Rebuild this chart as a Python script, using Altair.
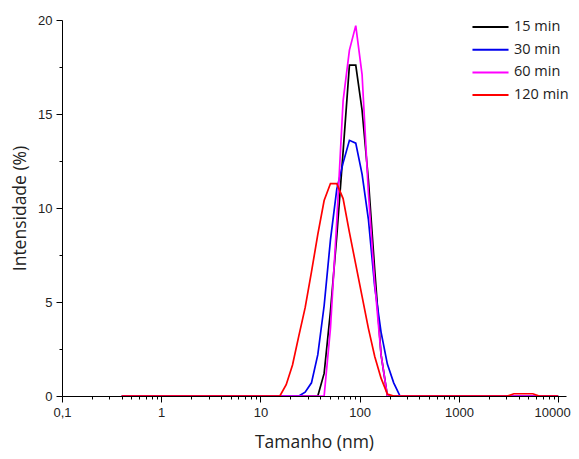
import altair as alt
import pandas as pd

sizes = [0.4000, 0.4632, 0.5365, 0.6213, 0.7195, 0.8332, 0.9649, 1.117, 1.294, 1.499,
         1.736, 2.010, 2.328, 2.696, 3.122, 3.615, 4.187, 4.849, 5.615, 6.503,
         7.531, 8.721, 10.10, 11.70, 13.54, 15.69, 18.17, 21.04, 24.36, 28.21,
         32.67, 37.84, 43.82, 50.75, 58.77, 68.06, 78.82, 91.28, 105.7, 122.4,
         141.8, 164.2, 190.1, 220.2, 255.0, 295.3, 342.0, 396.1, 458.7, 531.2,
         615.1, 712.4, 825.0, 955.4, 1106, 1281, 1484, 1718, 1990, 2305,
         2669, 3091, 3580, 4145, 4801, 5560, 6439, 7456, 8635, 10000]

z = [0.0] * 10
int_15 = z + z + z + [0, 0, 1.2, 4.5, 8.5, 13.0, 17.6, 17.6, 15.2, 11.5] + [6.7, 2.2, 0, 0, 0, 0, 0, 0, 0, 0] + z + z
int_30 = z + z + [0, 0, 0, 0, 0, 0, 0, 0, 0, 0.2] + [0.7, 2.2, 4.8, 8.3, 11.0, 12.4, 13.6, 13.45, 11.8, 9.4] + [5.8, 3.4, 1.7, 0.7, 0, 0, 0, 0, 0, 0] + z + z
int_60 = z + z + z + [0, 0, 0, 3.6, 9.3, 15.7, 18.4, 19.7, 17.1, 10.8] + [6.0, 2.2, 0, 0, 0, 0, 0, 0, 0, 0] + z + z
int_120 = z + z + [0, 0, 0, 0, 0, 0, 0.6, 1.65, 3.2, 4.7] + [6.6, 8.6, 10.4, 11.3, 11.3, 10.5, 8.7, 7.0, 5.3, 3.6] + [2.1, 0.95, 0.1, 0, 0, 0, 0, 0, 0, 0] + z + [0, 0, 0.12, 0.12, 0.12, 0.12, 0, 0, 0, 0]

series_names = ["15 min", "30 min", "60 min", "120 min"]
series_vals = [int_15, int_30, int_60, int_120]
colors = ["#000000", "#0000ee", "#ff00ff", "#ff0000"]

x_major = [0.1, 1, 10, 100, 1000, 10000]
x_minor = [m * 10 ** e for e in range(-1, 4) for m in range(2, 10)]
y_major = [0, 5, 10, 15, 20]
y_minor = [2.5, 7.5, 12.5, 17.5]

rows = []
for name, vals in zip(series_names, series_vals):
    for i, (s, v) in enumerate(zip(sizes, vals)):
        rows.append({"size": s, "intensity": v, "series": name, "order": i})
df = pd.DataFrame(rows)

xscale = alt.Scale(type="log", domain=[0.1, 12000], nice=False)
yscale = alt.Scale(domain=[0, 20], nice=False)

lab_font = "Liberation Sans"
title_font = "Open Sans"

lines = alt.Chart(df).mark_line(strokeWidth=1.7, clip=True).encode(
    x=alt.X("size:Q", scale=xscale, axis=alt.Axis(
        orient="bottom", values=x_major, title="Tamanho (nm)",
        labelExpr="replace(toString(datum.value), '.', ',')",
        labelOffset={"condition": {"test": "datum.value >= 10000", "value": -6}, "value": 0},
        grid=False, domainColor="#000", domainWidth=1, tickColor="#000",
        tickSize=6, tickWidth=1, labelFont=lab_font, labelFontSize=13,
        labelColor="#222", labelPadding=4, titleFont=title_font,
        titleFontSize=17.5, titleFontWeight="normal", titleColor="#222",
        titlePadding=14, labelFlush=False)),
    y=alt.Y("intensity:Q", scale=yscale, axis=alt.Axis(
        orient="left", values=y_major, title="Intensidade (%)",
        grid=False, domainColor="#000", domainWidth=1, tickColor="#000",
        tickSize=6, tickWidth=1, labelFont=lab_font, labelFontSize=13,
        labelColor="#222", labelPadding=4, titleFont=title_font,
        titleFontSize=17.5, titleFontWeight="normal", titleColor="#222",
        titlePadding=8)),
    color=alt.Color("series:N", scale=alt.Scale(domain=series_names, range=colors),
                    legend=alt.Legend(title=None, orient="none", legendX=409, legendY=-2,
                                      padding=0, clipHeight=18,
                                      symbolType="stroke", symbolSize=1300,
                                      symbolStrokeWidth=2, labelFont=title_font,
                                      labelFontSize=14.5, labelColor="#222",
                                      rowPadding=4.7, labelOffset=4)),
    order=alt.Order("order:Q"),
)

minor = alt.Chart(df).mark_point(opacity=0).encode(
    x=alt.X("size:Q", scale=xscale, axis=alt.Axis(
        orient="bottom", values=x_minor, labels=False, title=None, grid=False,
        domain=False, tickColor="#000", tickSize=3, tickWidth=1)),
    y=alt.Y("intensity:Q", scale=yscale, axis=alt.Axis(
        orient="left", values=y_minor, labels=False, title=None, grid=False,
        domain=False, tickColor="#000", tickSize=3, tickWidth=1)),
)

chart = alt.layer(minor, lines).resolve_axis(x="independent", y="independent").properties(
    width=504, height=376,
    padding={"left": 54, "top": 12, "right": 5, "bottom": 55},
    autosize=alt.AutoSizeParams(type="none"),
).configure_view(stroke=None)

chart.save("out.html", embed_options={"renderer": "svg", "actions": False})
